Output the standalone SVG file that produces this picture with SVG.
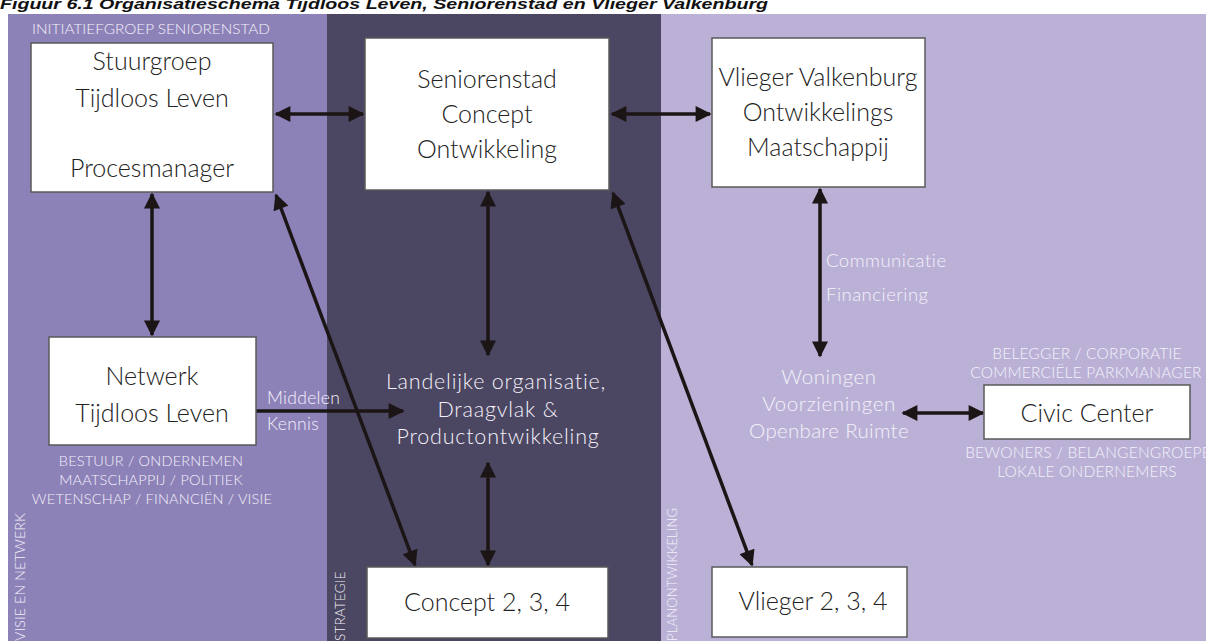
<svg xmlns="http://www.w3.org/2000/svg" width="1206" height="641" viewBox="0 0 1206 641">
<style>
.box{fill:#fff;stroke:#5a5a5a;stroke-width:1.5}
.bt{font-family:Lato,"Noto Sans",sans-serif;font-weight:300;font-size:25px;fill:#222;text-anchor:middle}
.lt{font-family:Lato,"Noto Sans",sans-serif;font-weight:300;fill:#f3f1fa}
.cap{font-family:Lato,"Noto Sans",sans-serif;font-weight:300;font-size:14.5px;letter-spacing:0.2px;fill:#f3f1fa;text-anchor:middle}
.con{stroke:#1b1515;stroke-width:3.5;fill:none;marker-start:url(#ah);marker-end:url(#ah)}
</style>
<defs>
<marker id="ah" viewBox="0 0 10 10" refX="9" refY="5" markerWidth="17" markerHeight="16" markerUnits="userSpaceOnUse" orient="auto-start-reverse">
<path d="M0,0 L10,5 L0,10 z" fill="#1b1515"/>
</marker>
</defs>
<rect width="1206" height="641" fill="#fff"/>
<text x="0" y="9" font-family="Liberation Sans, Arial, sans-serif" font-style="italic" font-weight="bold" font-size="15" fill="#111" textLength="768" lengthAdjust="spacingAndGlyphs">Figuur 6.1 Organisatieschema Tijdloos Leven, Seniorenstad en Vlieger Valkenburg</text>
<g id="panels">
<rect x="8" y="14" width="319" height="627" fill="#8d82b8"/>
<rect x="327" y="14" width="334" height="627" fill="#4b4661"/>
<rect x="661" y="14" width="545" height="627" fill="#bbb1d6"/>
</g>
<g id="panel-labels">
<text class="cap" x="151" y="34" textLength="238" lengthAdjust="spacingAndGlyphs" style="font-size:13.5px;letter-spacing:0">INITIATIEFGROEP SENIORENSTAD</text>
<text class="cap" transform="translate(25,641) rotate(-90)" style="text-anchor:start;font-size:14px">VISIE EN NETWERK</text>
<text class="cap" transform="translate(345,641) rotate(-90)" style="text-anchor:start;font-size:13.5px">STRATEGIE</text>
<text class="cap" transform="translate(677,641) rotate(-90)" style="text-anchor:start;font-size:13px">PLANONTWIKKELING</text>
</g>
<g id="connectors">
<line class="con" x1="152" y1="194" x2="152" y2="335"/>
<line class="con" x1="276" y1="114" x2="363" y2="114"/>
<line class="con" x1="612" y1="114" x2="710" y2="114"/>
<line class="con" x1="276" y1="195" x2="415" y2="565"/>
<line class="con" x1="613" y1="193" x2="752" y2="565"/>
<line class="con" x1="488" y1="192" x2="488" y2="355"/>
<line class="con" x1="488" y1="463" x2="488" y2="565"/>
<line class="con" x1="820" y1="189" x2="820" y2="356"/>
<line class="con" x1="903" y1="413" x2="983" y2="413"/>
<line x1="256" y1="411" x2="403" y2="411" stroke="#1b1515" stroke-width="3.5" marker-end="url(#ah)"/>
</g>
<g id="stuurgroep">
<rect class="box" x="31" y="43" width="242" height="149"/>
<text class="bt" x="152" y="70">Stuurgroep</text>
<text class="bt" x="152" y="107">Tijdloos Leven</text>
<text class="bt" x="152" y="177">Procesmanager</text>
</g>
<g id="seniorenstad">
<rect class="box" x="365" y="38" width="244" height="152"/>
<text class="bt" x="487" y="88">Seniorenstad</text>
<text class="bt" x="487" y="123">Concept</text>
<text class="bt" x="487" y="158">Ontwikkeling</text>
</g>
<g id="vlieger-valkenburg">
<rect class="box" x="712" y="38" width="213" height="149"/>
<text class="bt" x="818" y="86">Vlieger Valkenburg</text>
<text class="bt" x="818" y="121">Ontwikkelings</text>
<text class="bt" x="818" y="156">Maatschappij</text>
</g>
<g id="netwerk">
<rect class="box" x="49" y="337" width="207" height="108"/>
<text class="bt" x="152" y="385">Netwerk</text>
<text class="bt" x="152" y="422">Tijdloos Leven</text>
<text class="cap" x="151" y="466">BESTUUR / ONDERNEMEN</text>
<text class="cap" x="151" y="485">MAATSCHAPPIJ / POLITIEK</text>
<text class="cap" x="152" y="504">WETENSCHAP / FINANCIËN / VISIE</text>
</g>
<g id="middelen-kennis">
<text class="lt" x="267" y="404" font-size="17.5" letter-spacing="0.3">Middelen</text>
<text class="lt" x="267" y="430" font-size="17.5" letter-spacing="0.3">Kennis</text>
</g>
<g id="landelijke">
<text class="lt" x="496" y="389" font-size="21.5" letter-spacing="0.8" text-anchor="middle">Landelijke organisatie,</text>
<text class="lt" x="498" y="417" font-size="21.5" letter-spacing="0.8" text-anchor="middle">Draagvlak &amp;</text>
<text class="lt" x="498" y="444" font-size="21.5" letter-spacing="0.8" text-anchor="middle">Productontwikkeling</text>
</g>
<g id="concept234">
<rect class="box" x="367" y="567" width="241" height="71"/>
<text class="bt" x="487" y="611">Concept 2, 3, 4</text>
</g>
<g id="vlieger234">
<rect class="box" x="712" y="567" width="195" height="70"/>
<text class="bt" x="813" y="610">Vlieger 2, 3, 4</text>
</g>
<g id="communicatie">
<text class="lt" x="826" y="267" font-size="18.5" letter-spacing="0.5">Communicatie</text>
<text class="lt" x="826" y="301" font-size="18.5" letter-spacing="0.5">Financiering</text>
</g>
<g id="woningen">
<text class="lt" x="829" y="384" font-size="20.5" letter-spacing="0.6" text-anchor="middle">Woningen</text>
<text class="lt" x="829" y="411" font-size="20.5" letter-spacing="0.6" text-anchor="middle">Voorzieningen</text>
<text class="lt" x="829" y="438" font-size="20.5" letter-spacing="0.3" text-anchor="middle">Openbare Ruimte</text>
</g>
<g id="civic-center">
<rect class="box" x="984" y="385" width="206" height="54"/>
<text class="bt" x="1087" y="422">Civic Center</text>
<text class="cap" x="1087" y="359" style="font-size:15.5px">BELEGGER / CORPORATIE</text>
<text class="cap" x="1086" y="378" style="font-size:15.5px">COMMERCIËLE PARKMANAGER</text>
<text class="cap" x="1094" y="458" style="font-size:15.5px">BEWONERS / BELANGENGROEPEN</text>
<text class="cap" x="1087" y="477" style="font-size:15.5px">LOKALE ONDERNEMERS</text>
</g>
</svg>
